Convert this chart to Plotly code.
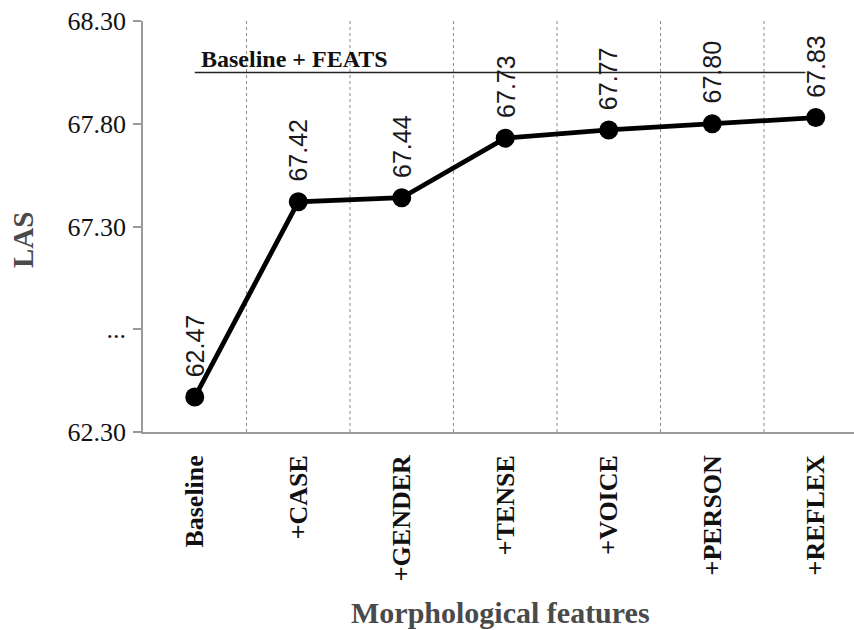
import plotly.graph_objects as go

# ---- data ----
categories = ["Baseline", "+CASE", "+GENDER", "+TENSE", "+VOICE", "+PERSON", "+REFLEX"]
las_values = [62.47, 67.42, 67.44, 67.73, 67.77, 67.80, 67.83]
y_tick_values = [62.30, 62.80, 67.30, 67.80, 68.30]
y_tick_labels = ["62.30", "...", "67.30", "67.80", "68.30"]
feats_level = 68.05
feats_label = "Baseline + FEATS"

# broken axis: values above the break are shifted down by the gap
BREAK_LOW, BREAK_HIGH = 62.80, 66.80
GAP = BREAK_HIGH - BREAK_LOW


def tr(v):
    return v - GAP if v > (BREAK_LOW + BREAK_HIGH) / 2 else v


y_plot = [tr(v) for v in las_values]
x_idx = list(range(len(categories)))

W, H = 854, 630
ML, MR, MT, MB = 143, 0, 21, 198
plot_w = W - ML - MR
plot_h = H - MT - MB
unit = 103.5
x_max = plot_w / unit - 0.5

fig = go.Figure()
fig.add_trace(go.Scatter(
    x=x_idx, y=y_plot, mode="lines+markers",
    line=dict(color="black", width=4.8),
    marker=dict(color="black", size=19),
    hoverinfo="skip", showlegend=False,
))

annotations = []
for xi, v, yp in zip(x_idx, las_values, y_plot):
    annotations.append(dict(
        x=xi, y=yp, xref="x", yref="y", text=f"{v:.2f}", textangle=-90,
        showarrow=False, xanchor="center", yanchor="bottom", yshift=18,
        font=dict(family="Liberation Sans, Arial", size=25, color="#1a1a1a"),
    ))

annotations.append(dict(
    x=0, y=tr(feats_level), xref="x", yref="y", text=f"<b>{feats_label}</b>",
    showarrow=False, xanchor="left", yanchor="bottom", xshift=4, yshift=-2,
    font=dict(family="Liberation Serif, Times New Roman", size=24, color="#111"),
))
annotations.append(dict(
    x=(23 - ML) / plot_w, y=(plot_h - (240 - MT)) / plot_h, xref="paper", yref="paper",
    text="<b>LAS</b>", textangle=-90, showarrow=False, xanchor="center", yanchor="middle",
    font=dict(family="Liberation Serif, Times New Roman", size=29, color="#4a4a4a"),
))
annotations.append(dict(
    x=(500 - ML) / plot_w, y=(plot_h - (612 - MT)) / plot_h, xref="paper", yref="paper",
    text="<b>Morphological features</b>", showarrow=False, xanchor="center", yanchor="middle",
    font=dict(family="Liberation Serif, Times New Roman", size=30, color="#4a4a4a"),
))

shapes = [dict(
    type="line", xref="x", yref="y", x0=0, x1=5.9,
    y0=tr(feats_level), y1=tr(feats_level),
    line=dict(color="#222", width=1.5),
)]
for i in range(len(categories) - 1):
    shapes.append(dict(
        type="line", xref="x", yref="paper", x0=i + 0.5, x1=i + 0.5, y0=0, y1=1,
        line=dict(color="#8a8a8a", width=1, dash="dot"), layer="below",
    ))

fig.update_layout(
    width=W, height=H,
    margin=dict(l=ML, r=MR, t=MT, b=MB, autoexpand=False),
    paper_bgcolor="white", plot_bgcolor="white",
    annotations=annotations, shapes=shapes,
    xaxis=dict(
        range=[-0.5, x_max], tickmode="array", tickvals=x_idx,
        ticktext=[f"<b>{c}</b>" for c in categories], tickangle=-90,
        tickfont=dict(family="Liberation Serif, Times New Roman", size=26, color="#111"),
        showgrid=False, zeroline=False, showline=True, linecolor="#9a9a9a", linewidth=1.5,
        ticks="", ticklabelstandoff=11, fixedrange=True,
    ),
    yaxis=dict(
        range=[62.30, tr(68.30)], tickmode="array",
        tickvals=[tr(v) for v in y_tick_values], ticktext=y_tick_labels,
        tickfont=dict(family="Liberation Serif, Times New Roman", size=26, color="#111"),
        showgrid=False, zeroline=False, showline=True, linecolor="#9a9a9a", linewidth=1.5,
        ticks="outside", ticklen=8, tickcolor="#9a9a9a", tickwidth=1.5,
        ticklabelstandoff=2, fixedrange=True,
    ),
)

fig.write_html("out.html", config={"displayModeBar": False},
               post_script="document.body.style.margin='0px';")
